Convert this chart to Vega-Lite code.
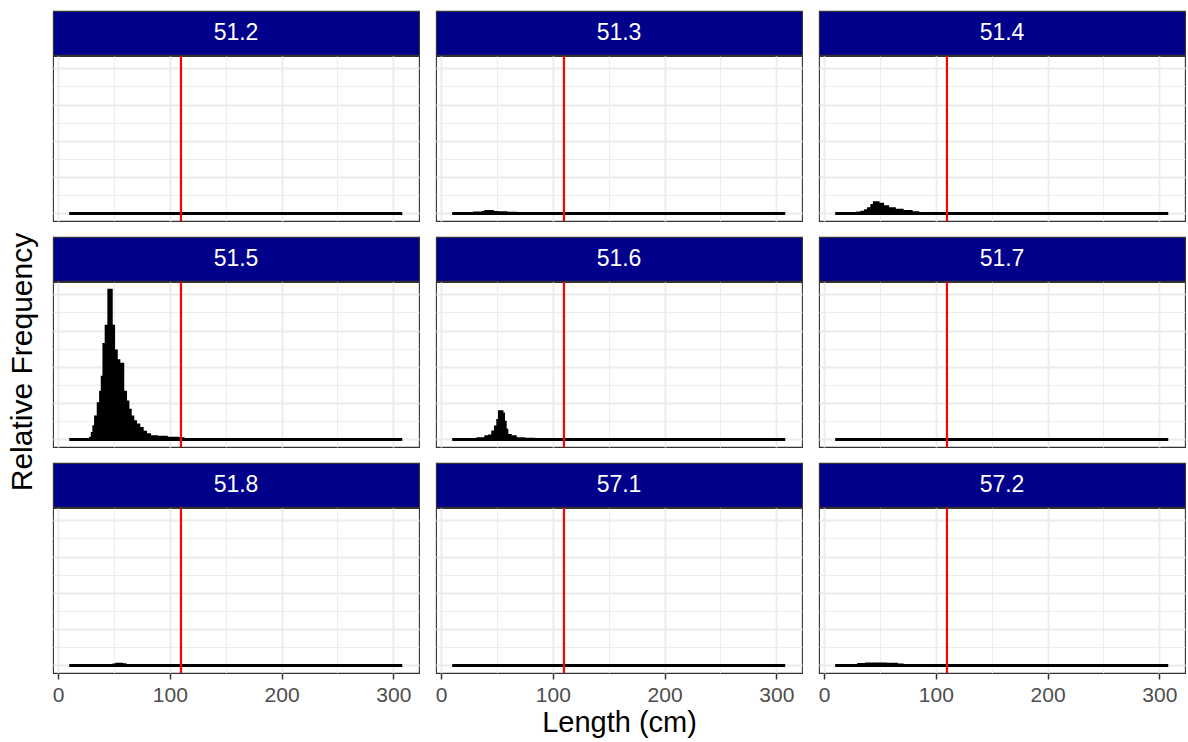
{
 "$schema": "https://vega.github.io/schema/vega-lite/v6.json",
 "datasets": {
  "hist": [
   {"area":"51.2","length":10,"freq":0},{"area":"51.2","length":308,"freq":0},
   {"area":"51.3","length":10,"freq":0},{"area":"51.3","length":30,"freq":0.0003},{"area":"51.3","length":38,"freq":0.0006},{"area":"51.3","length":40,"freq":0.0011},{"area":"51.3","length":46,"freq":0.0006},{"area":"51.3","length":50,"freq":0.0004},{"area":"51.3","length":58,"freq":0.0002},{"area":"51.3","length":67,"freq":0},{"area":"51.3","length":308,"freq":0},
   {"area":"51.4","length":10,"freq":0},{"area":"51.4","length":30,"freq":0.0003},{"area":"51.4","length":34,"freq":0.0008},{"area":"51.4","length":37,"freq":0.0015},{"area":"51.4","length":39.7,"freq":0.0027},{"area":"51.4","length":42.7,"freq":0.0045},{"area":"51.4","length":45,"freq":0.006},{"area":"51.4","length":48.5,"freq":0.0051},{"area":"51.4","length":52.5,"freq":0.0038},{"area":"51.4","length":57,"freq":0.0027},{"area":"51.4","length":63,"freq":0.0018},{"area":"51.4","length":70,"freq":0.0011},{"area":"51.4","length":78,"freq":0.0005},{"area":"51.4","length":84,"freq":0},{"area":"51.4","length":308,"freq":0},
   {"area":"51.5","length":10,"freq":0},{"area":"51.5","length":29,"freq":0.0007},{"area":"51.5","length":30.6,"freq":0.0034},{"area":"51.5","length":32,"freq":0.0071},{"area":"51.5","length":33.5,"freq":0.0125},{"area":"51.5","length":35.9,"freq":0.0197},{"area":"51.5","length":38,"freq":0.0261},{"area":"51.5","length":39.5,"freq":0.0343},{"area":"51.5","length":41,"freq":0.0524},{"area":"51.5","length":43,"freq":0.0624},{"area":"51.5","length":45.4,"freq":0.0823},{"area":"51.5","length":47.7,"freq":0.0624},{"area":"51.5","length":49.8,"freq":0.0488},{"area":"51.5","length":52.2,"freq":0.0434},{"area":"51.5","length":54.5,"freq":0.0415},{"area":"51.5","length":58,"freq":0.0261},{"area":"51.5","length":60.5,"freq":0.0207},{"area":"51.5","length":62.6,"freq":0.0162},{"area":"51.5","length":64.7,"freq":0.0125},{"area":"51.5","length":67,"freq":0.0098},{"area":"51.5","length":69.4,"freq":0.008},{"area":"51.5","length":72.4,"freq":0.0061},{"area":"51.5","length":75.4,"freq":0.004},{"area":"51.5","length":78.4,"freq":0.0026},{"area":"51.5","length":82,"freq":0.0016},{"area":"51.5","length":88,"freq":0.0013},{"area":"51.5","length":97,"freq":0.0007},{"area":"51.5","length":107,"freq":0.0004},{"area":"51.5","length":112,"freq":0},{"area":"51.5","length":308,"freq":0},
   {"area":"51.6","length":10,"freq":0},{"area":"51.6","length":33,"freq":0.0005},{"area":"51.6","length":40,"freq":0.0015},{"area":"51.6","length":43.3,"freq":0.002},{"area":"51.6","length":46.2,"freq":0.0042},{"area":"51.6","length":48.6,"freq":0.0069},{"area":"51.6","length":50.7,"freq":0.0105},{"area":"51.6","length":52.2,"freq":0.0154},{"area":"51.6","length":54.6,"freq":0.0141},{"area":"51.6","length":56,"freq":0.0096},{"area":"51.6","length":57.5,"freq":0.0051},{"area":"51.6","length":59,"freq":0.0023},{"area":"51.6","length":62,"freq":0.0015},{"area":"51.6","length":66.5,"freq":0.0005},{"area":"51.6","length":74,"freq":0.0002},{"area":"51.6","length":83,"freq":0},{"area":"51.6","length":308,"freq":0},
   {"area":"51.7","length":10,"freq":0},{"area":"51.7","length":308,"freq":0},
   {"area":"51.8","length":10,"freq":0},{"area":"51.8","length":50,"freq":0.0003},{"area":"51.8","length":52.5,"freq":0.0008},{"area":"51.8","length":57,"freq":0.0004},{"area":"51.8","length":60,"freq":0},{"area":"51.8","length":308,"freq":0},
   {"area":"57.1","length":10,"freq":0},{"area":"57.1","length":308,"freq":0},
   {"area":"57.2","length":10,"freq":0},{"area":"57.2","length":31,"freq":0.0006},{"area":"57.2","length":38,"freq":0.0009},{"area":"57.2","length":55,"freq":0.0007},{"area":"57.2","length":65,"freq":0.0003},{"area":"57.2","length":70,"freq":0},{"area":"57.2","length":308,"freq":0}
  ],
  "vline": [{"length": 110}],
  "ytitle": [{"label": "Relative Frequency"}]
 },
 "data": {"name": "hist"},
 "padding": {"left": 8, "top": 10, "right": 0, "bottom": 0},
 "background": "white",
 "spacing": 13,
 "hconcat": [
  {"data": {"name": "ytitle"}, "width": 28, "height": 702, "view": {"stroke": null}, "mark": {"type": "text", "angle": 270, "fontSize": 30, "color": "black"}, "encoding": {"text": {"field": "label", "type": "nominal"}}},
  {"columns": 3,
   "spacing": {"row": 13, "column": 14},
   "concat": [
  {"vconcat": [
    {"data": {"values": [{"area": "51.2"}]}, "width": 366, "height": 44, "view": {"fill": "#00008B", "stroke": "#333333", "strokeWidth": 1.1}, "mark": {"type": "text", "color": "white", "fontSize": 23}, "encoding": {"text": {"field": "area", "type": "nominal"}}},
    {"width": 366, "height": 165, "layer": [
      {"transform": [{"filter": "datum.area === '51.2'"}], "mark": {"type": "area", "interpolate": "step-after", "color": "black", "stroke": "black", "strokeWidth": 2.8}, "encoding": {
        "x": {"field": "length", "type": "quantitative", "scale": {"domain": [-4.5, 323], "nice": false, "zero": false}, "axis": {"values": [0,50,100,150,200,250,300], "labels": false, "ticks": false, "title": null, "gridWidth": {"condition": {"test": "datum.value % 100 === 0", "value": 1.8}, "value": 0.9}}},
        "y": {"field": "freq", "type": "quantitative", "scale": {"domain": [-0.00414, 0.0868], "nice": false, "zero": false}, "axis": {"values": [0,0.01,0.02,0.03,0.04,0.05,0.06,0.07,0.08], "labels": false, "ticks": false, "title": null, "gridWidth": {"condition": {"test": "round(datum.value*100) % 2 === 0", "value": 1.8}, "value": 0.9}}},
        "y2": {"datum": 0}}},
      {"data": {"name": "vline"}, "mark": {"type": "rule", "color": "#FF0000", "strokeWidth": 2.2}, "encoding": {"x": {"field": "length", "type": "quantitative"}}}
    ]}
  ], "spacing": -3},
  {"vconcat": [
    {"data": {"values": [{"area": "51.3"}]}, "width": 366, "height": 44, "view": {"fill": "#00008B", "stroke": "#333333", "strokeWidth": 1.1}, "mark": {"type": "text", "color": "white", "fontSize": 23}, "encoding": {"text": {"field": "area", "type": "nominal"}}},
    {"width": 366, "height": 165, "layer": [
      {"transform": [{"filter": "datum.area === '51.3'"}], "mark": {"type": "area", "interpolate": "step-after", "color": "black", "stroke": "black", "strokeWidth": 2.8}, "encoding": {
        "x": {"field": "length", "type": "quantitative", "scale": {"domain": [-4.5, 323], "nice": false, "zero": false}, "axis": {"values": [0,50,100,150,200,250,300], "labels": false, "ticks": false, "title": null, "gridWidth": {"condition": {"test": "datum.value % 100 === 0", "value": 1.8}, "value": 0.9}}},
        "y": {"field": "freq", "type": "quantitative", "scale": {"domain": [-0.00414, 0.0868], "nice": false, "zero": false}, "axis": {"values": [0,0.01,0.02,0.03,0.04,0.05,0.06,0.07,0.08], "labels": false, "ticks": false, "title": null, "gridWidth": {"condition": {"test": "round(datum.value*100) % 2 === 0", "value": 1.8}, "value": 0.9}}},
        "y2": {"datum": 0}}},
      {"data": {"name": "vline"}, "mark": {"type": "rule", "color": "#FF0000", "strokeWidth": 2.2}, "encoding": {"x": {"field": "length", "type": "quantitative"}}}
    ]}
  ], "spacing": -3},
  {"vconcat": [
    {"data": {"values": [{"area": "51.4"}]}, "width": 366, "height": 44, "view": {"fill": "#00008B", "stroke": "#333333", "strokeWidth": 1.1}, "mark": {"type": "text", "color": "white", "fontSize": 23}, "encoding": {"text": {"field": "area", "type": "nominal"}}},
    {"width": 366, "height": 165, "layer": [
      {"transform": [{"filter": "datum.area === '51.4'"}], "mark": {"type": "area", "interpolate": "step-after", "color": "black", "stroke": "black", "strokeWidth": 2.8}, "encoding": {
        "x": {"field": "length", "type": "quantitative", "scale": {"domain": [-4.5, 323], "nice": false, "zero": false}, "axis": {"values": [0,50,100,150,200,250,300], "labels": false, "ticks": false, "title": null, "gridWidth": {"condition": {"test": "datum.value % 100 === 0", "value": 1.8}, "value": 0.9}}},
        "y": {"field": "freq", "type": "quantitative", "scale": {"domain": [-0.00414, 0.0868], "nice": false, "zero": false}, "axis": {"values": [0,0.01,0.02,0.03,0.04,0.05,0.06,0.07,0.08], "labels": false, "ticks": false, "title": null, "gridWidth": {"condition": {"test": "round(datum.value*100) % 2 === 0", "value": 1.8}, "value": 0.9}}},
        "y2": {"datum": 0}}},
      {"data": {"name": "vline"}, "mark": {"type": "rule", "color": "#FF0000", "strokeWidth": 2.2}, "encoding": {"x": {"field": "length", "type": "quantitative"}}}
    ]}
  ], "spacing": -3},
  {"vconcat": [
    {"data": {"values": [{"area": "51.5"}]}, "width": 366, "height": 44, "view": {"fill": "#00008B", "stroke": "#333333", "strokeWidth": 1.1}, "mark": {"type": "text", "color": "white", "fontSize": 23}, "encoding": {"text": {"field": "area", "type": "nominal"}}},
    {"width": 366, "height": 165, "layer": [
      {"transform": [{"filter": "datum.area === '51.5'"}], "mark": {"type": "area", "interpolate": "step-after", "color": "black", "stroke": "black", "strokeWidth": 2.8}, "encoding": {
        "x": {"field": "length", "type": "quantitative", "scale": {"domain": [-4.5, 323], "nice": false, "zero": false}, "axis": {"values": [0,50,100,150,200,250,300], "labels": false, "ticks": false, "title": null, "gridWidth": {"condition": {"test": "datum.value % 100 === 0", "value": 1.8}, "value": 0.9}}},
        "y": {"field": "freq", "type": "quantitative", "scale": {"domain": [-0.00414, 0.0868], "nice": false, "zero": false}, "axis": {"values": [0,0.01,0.02,0.03,0.04,0.05,0.06,0.07,0.08], "labels": false, "ticks": false, "title": null, "gridWidth": {"condition": {"test": "round(datum.value*100) % 2 === 0", "value": 1.8}, "value": 0.9}}},
        "y2": {"datum": 0}}},
      {"data": {"name": "vline"}, "mark": {"type": "rule", "color": "#FF0000", "strokeWidth": 2.2}, "encoding": {"x": {"field": "length", "type": "quantitative"}}}
    ]}
  ], "spacing": -3},
  {"vconcat": [
    {"data": {"values": [{"area": "51.6"}]}, "width": 366, "height": 44, "view": {"fill": "#00008B", "stroke": "#333333", "strokeWidth": 1.1}, "mark": {"type": "text", "color": "white", "fontSize": 23}, "encoding": {"text": {"field": "area", "type": "nominal"}}},
    {"width": 366, "height": 165, "layer": [
      {"transform": [{"filter": "datum.area === '51.6'"}], "mark": {"type": "area", "interpolate": "step-after", "color": "black", "stroke": "black", "strokeWidth": 2.8}, "encoding": {
        "x": {"field": "length", "type": "quantitative", "scale": {"domain": [-4.5, 323], "nice": false, "zero": false}, "axis": {"values": [0,50,100,150,200,250,300], "labels": false, "ticks": false, "title": null, "gridWidth": {"condition": {"test": "datum.value % 100 === 0", "value": 1.8}, "value": 0.9}}},
        "y": {"field": "freq", "type": "quantitative", "scale": {"domain": [-0.00414, 0.0868], "nice": false, "zero": false}, "axis": {"values": [0,0.01,0.02,0.03,0.04,0.05,0.06,0.07,0.08], "labels": false, "ticks": false, "title": null, "gridWidth": {"condition": {"test": "round(datum.value*100) % 2 === 0", "value": 1.8}, "value": 0.9}}},
        "y2": {"datum": 0}}},
      {"data": {"name": "vline"}, "mark": {"type": "rule", "color": "#FF0000", "strokeWidth": 2.2}, "encoding": {"x": {"field": "length", "type": "quantitative"}}}
    ]}
  ], "spacing": -3},
  {"vconcat": [
    {"data": {"values": [{"area": "51.7"}]}, "width": 366, "height": 44, "view": {"fill": "#00008B", "stroke": "#333333", "strokeWidth": 1.1}, "mark": {"type": "text", "color": "white", "fontSize": 23}, "encoding": {"text": {"field": "area", "type": "nominal"}}},
    {"width": 366, "height": 165, "layer": [
      {"transform": [{"filter": "datum.area === '51.7'"}], "mark": {"type": "area", "interpolate": "step-after", "color": "black", "stroke": "black", "strokeWidth": 2.8}, "encoding": {
        "x": {"field": "length", "type": "quantitative", "scale": {"domain": [-4.5, 323], "nice": false, "zero": false}, "axis": {"values": [0,50,100,150,200,250,300], "labels": false, "ticks": false, "title": null, "gridWidth": {"condition": {"test": "datum.value % 100 === 0", "value": 1.8}, "value": 0.9}}},
        "y": {"field": "freq", "type": "quantitative", "scale": {"domain": [-0.00414, 0.0868], "nice": false, "zero": false}, "axis": {"values": [0,0.01,0.02,0.03,0.04,0.05,0.06,0.07,0.08], "labels": false, "ticks": false, "title": null, "gridWidth": {"condition": {"test": "round(datum.value*100) % 2 === 0", "value": 1.8}, "value": 0.9}}},
        "y2": {"datum": 0}}},
      {"data": {"name": "vline"}, "mark": {"type": "rule", "color": "#FF0000", "strokeWidth": 2.2}, "encoding": {"x": {"field": "length", "type": "quantitative"}}}
    ]}
  ], "spacing": -3},
  {"vconcat": [
    {"data": {"values": [{"area": "51.8"}]}, "width": 366, "height": 44, "view": {"fill": "#00008B", "stroke": "#333333", "strokeWidth": 1.1}, "mark": {"type": "text", "color": "white", "fontSize": 23}, "encoding": {"text": {"field": "area", "type": "nominal"}}},
    {"width": 366, "height": 165, "layer": [
      {"transform": [{"filter": "datum.area === '51.8'"}], "mark": {"type": "area", "interpolate": "step-after", "color": "black", "stroke": "black", "strokeWidth": 2.8}, "encoding": {
        "x": {"field": "length", "type": "quantitative", "scale": {"domain": [-4.5, 323], "nice": false, "zero": false}, "axis": {"values": [0,50,100,150,200,250,300], "labelExpr": "datum.value % 100 === 0 ? datum.label : ''", "tickOpacity": {"condition": {"test": "datum.value % 100 === 0", "value": 1}, "value": 0}, "title": null, "gridWidth": {"condition": {"test": "datum.value % 100 === 0", "value": 1.8}, "value": 0.9}}},
        "y": {"field": "freq", "type": "quantitative", "scale": {"domain": [-0.00414, 0.0868], "nice": false, "zero": false}, "axis": {"values": [0,0.01,0.02,0.03,0.04,0.05,0.06,0.07,0.08], "labels": false, "ticks": false, "title": null, "gridWidth": {"condition": {"test": "round(datum.value*100) % 2 === 0", "value": 1.8}, "value": 0.9}}},
        "y2": {"datum": 0}}},
      {"data": {"name": "vline"}, "mark": {"type": "rule", "color": "#FF0000", "strokeWidth": 2.2}, "encoding": {"x": {"field": "length", "type": "quantitative"}}}
    ]}
  ], "spacing": -3},
  {"vconcat": [
    {"data": {"values": [{"area": "57.1"}]}, "width": 366, "height": 44, "view": {"fill": "#00008B", "stroke": "#333333", "strokeWidth": 1.1}, "mark": {"type": "text", "color": "white", "fontSize": 23}, "encoding": {"text": {"field": "area", "type": "nominal"}}},
    {"width": 366, "height": 165, "layer": [
      {"transform": [{"filter": "datum.area === '57.1'"}], "mark": {"type": "area", "interpolate": "step-after", "color": "black", "stroke": "black", "strokeWidth": 2.8}, "encoding": {
        "x": {"field": "length", "type": "quantitative", "scale": {"domain": [-4.5, 323], "nice": false, "zero": false}, "axis": {"values": [0,50,100,150,200,250,300], "labelExpr": "datum.value % 100 === 0 ? datum.label : ''", "tickOpacity": {"condition": {"test": "datum.value % 100 === 0", "value": 1}, "value": 0}, "title": "Length (cm)", "gridWidth": {"condition": {"test": "datum.value % 100 === 0", "value": 1.8}, "value": 0.9}}},
        "y": {"field": "freq", "type": "quantitative", "scale": {"domain": [-0.00414, 0.0868], "nice": false, "zero": false}, "axis": {"values": [0,0.01,0.02,0.03,0.04,0.05,0.06,0.07,0.08], "labels": false, "ticks": false, "title": null, "gridWidth": {"condition": {"test": "round(datum.value*100) % 2 === 0", "value": 1.8}, "value": 0.9}}},
        "y2": {"datum": 0}}},
      {"data": {"name": "vline"}, "mark": {"type": "rule", "color": "#FF0000", "strokeWidth": 2.2}, "encoding": {"x": {"field": "length", "type": "quantitative"}}}
    ]}
  ], "spacing": -3},
  {"vconcat": [
    {"data": {"values": [{"area": "57.2"}]}, "width": 366, "height": 44, "view": {"fill": "#00008B", "stroke": "#333333", "strokeWidth": 1.1}, "mark": {"type": "text", "color": "white", "fontSize": 23}, "encoding": {"text": {"field": "area", "type": "nominal"}}},
    {"width": 366, "height": 165, "layer": [
      {"transform": [{"filter": "datum.area === '57.2'"}], "mark": {"type": "area", "interpolate": "step-after", "color": "black", "stroke": "black", "strokeWidth": 2.8}, "encoding": {
        "x": {"field": "length", "type": "quantitative", "scale": {"domain": [-4.5, 323], "nice": false, "zero": false}, "axis": {"values": [0,50,100,150,200,250,300], "labelExpr": "datum.value % 100 === 0 ? datum.label : ''", "tickOpacity": {"condition": {"test": "datum.value % 100 === 0", "value": 1}, "value": 0}, "title": null, "gridWidth": {"condition": {"test": "datum.value % 100 === 0", "value": 1.8}, "value": 0.9}}},
        "y": {"field": "freq", "type": "quantitative", "scale": {"domain": [-0.00414, 0.0868], "nice": false, "zero": false}, "axis": {"values": [0,0.01,0.02,0.03,0.04,0.05,0.06,0.07,0.08], "labels": false, "ticks": false, "title": null, "gridWidth": {"condition": {"test": "round(datum.value*100) % 2 === 0", "value": 1.8}, "value": 0.9}}},
        "y2": {"datum": 0}}},
      {"data": {"name": "vline"}, "mark": {"type": "rule", "color": "#FF0000", "strokeWidth": 2.2}, "encoding": {"x": {"field": "length", "type": "quantitative"}}}
    ]}
  ], "spacing": -3}
   ]}
 ],
 "config": {
  "font": "Liberation Sans",
  "view": {"stroke": "#333333", "strokeWidth": 1.1},
  "axis": {"domain": false, "grid": true, "gridColor": "#EBEBEB", "labelColor": "#4D4D4D", "labelFontSize": 21, "labelPadding": 5, "labelFlush": false, "labelOverlap": false, "titleFontSize": 29, "titleFontWeight": "normal", "titleColor": "black", "titlePadding": 3, "tickColor": "#333333", "tickSize": 6, "tickWidth": 1.5}
 }
}
